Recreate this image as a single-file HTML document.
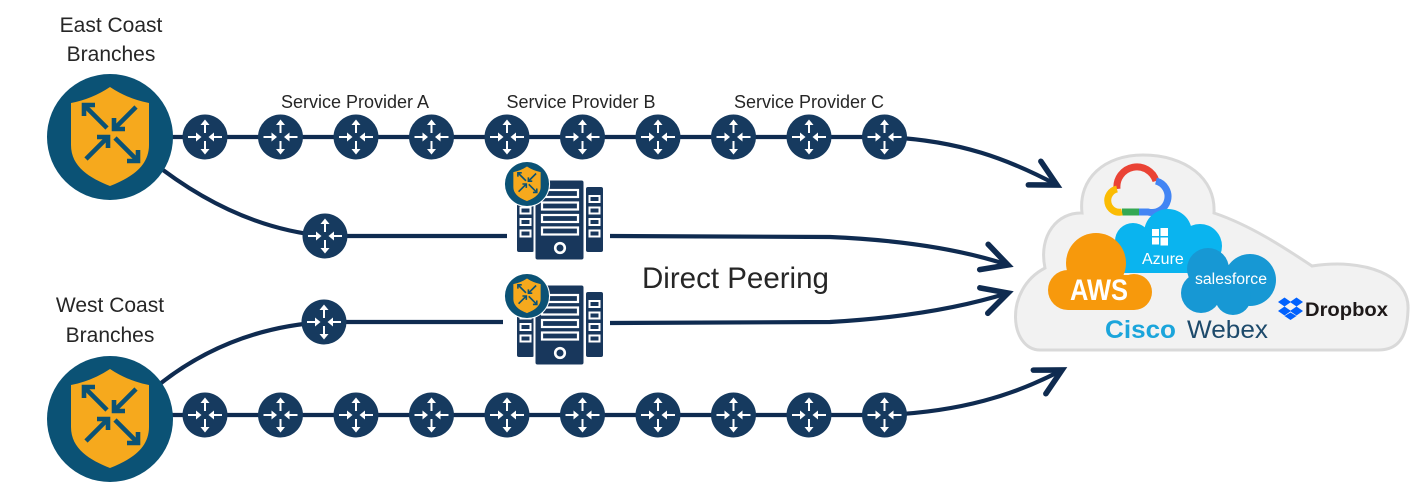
<!DOCTYPE html>
<html>
<head>
<meta charset="utf-8">
<style>
  html, body { margin:0; padding:0; background:#ffffff; }
  body { width:1410px; height:485px; overflow:hidden; }
  svg { display:block; }
  .lbl { font-family:"Liberation Sans", sans-serif; fill:#262626; }
</style>
</head>
<body>
<svg width="1410" height="485" viewBox="0 0 1410 485" xmlns="http://www.w3.org/2000/svg">
  <defs>
    <marker id="ah" markerUnits="userSpaceOnUse" markerWidth="40" markerHeight="40" refX="0" refY="0" viewBox="-25 -15 30 30" orient="auto" overflow="visible">
      <path d="M -19,-10 L 0,0 L -19,10" fill="none" stroke="#0f2b50" stroke-width="4.2" stroke-linejoin="miter" stroke-linecap="round"/>
    </marker>
    <g id="router">
      <circle r="22.5" fill="#163a5f"/>
      <g stroke="#ffffff" stroke-width="2" fill="none">
        <line x1="0" y1="-4" x2="0" y2="-13"/>
        <line x1="0" y1="4" x2="0" y2="13"/>
        <line x1="-17" y1="0" x2="-8" y2="0"/>
        <line x1="17" y1="0" x2="8" y2="0"/>
      </g>
      <g fill="#ffffff">
        <polygon points="0,-17.5 -4.5,-12 4.5,-12"/>
        <polygon points="0,17.5 -4.5,12 4.5,12"/>
        <polygon points="-3.5,0 -9,-4.5 -9,4.5"/>
        <polygon points="3.5,0 9,-4.5 9,4.5"/>
      </g>
    </g>
    <g id="badge">
      <circle r="63" fill="#0b5275"/>
      <path d="M -39,-34 Q -18,-38 0,-50 Q 18,-38 39,-34 L 39,8 C 39,30 20,41 0,49 C -20,41 -39,30 -39,8 Z" fill="#f6a91d"/>
      <g stroke="#0b5275" stroke-width="4.6" fill="none" stroke-linecap="butt" stroke-linejoin="miter">
        <line x1="-3" y1="-9" x2="-24" y2="-30"/>
        <polyline points="-26,-21 -26,-32 -15,-32"/>
        <line x1="5" y1="1" x2="26" y2="22"/>
        <polyline points="28,13 28,24 17,24"/>
        <line x1="26" y1="-30" x2="6" y2="-10"/>
        <polyline points="4,-19 4,-8 15,-8"/>
        <line x1="-24" y1="22" x2="-4" y2="2"/>
        <polyline points="-2,11 -2,0 -13,0"/>
      </g>
    </g>
    <g id="server">
      <rect x="517" y="187" width="17" height="65" rx="2" fill="#18375c"/>
      <rect x="586" y="187" width="17" height="65" rx="2" fill="#18375c"/>
      <g fill="none" stroke="#ffffff" stroke-width="2">
        <rect x="520.5" y="196" width="10" height="6"/>
        <rect x="520.5" y="207.5" width="10" height="6"/>
        <rect x="520.5" y="219" width="10" height="6"/>
        <rect x="520.5" y="230.5" width="10" height="6"/>
        <rect x="589.5" y="196" width="10" height="6"/>
        <rect x="589.5" y="207.5" width="10" height="6"/>
        <rect x="589.5" y="219" width="10" height="6"/>
        <rect x="589.5" y="230.5" width="10" height="6"/>
      </g>
      <rect x="534.5" y="179.5" width="50" height="81" rx="3" fill="#18375c" stroke="#ffffff" stroke-width="2"/>
      <g fill="none" stroke="#ffffff" stroke-width="2.2">
        <rect x="542" y="190" width="36" height="7"/>
        <rect x="542" y="202.5" width="36" height="7"/>
        <rect x="542" y="215" width="36" height="7"/>
        <rect x="542" y="227.5" width="36" height="7"/>
        <circle cx="560" cy="248" r="4.8" stroke-width="2.6"/>
      </g>
    </g>
  </defs>

  <g fill="none" stroke="#0f2b50" stroke-width="4.2">
    <line x1="165" y1="137" x2="884" y2="137"/>
    <path d="M 884,137 C 960,140 1010,160 1057,185" marker-end="url(#ah)"/>
    <path d="M 150,160 Q 235,228 325,236 L 507,236"/>
    <path d="M 610,236 L 830,237 C 900,240 960,249 1008,265" marker-end="url(#ah)"/>
    <path d="M 150,392 Q 225,328 325,322 L 503,322"/>
    <path d="M 610,323 L 830,322 C 900,318 960,308 1008,293" marker-end="url(#ah)"/>
    <line x1="165" y1="415" x2="884" y2="415"/>
    <path d="M 884,415 C 960,412 1015,395 1062,370" marker-end="url(#ah)"/>
  </g>

  <use href="#router" x="205" y="137"/>
  <use href="#router" x="280.5" y="137"/>
  <use href="#router" x="356" y="137"/>
  <use href="#router" x="431.5" y="137"/>
  <use href="#router" x="507" y="137"/>
  <use href="#router" x="582.5" y="137"/>
  <use href="#router" x="658" y="137"/>
  <use href="#router" x="733.5" y="137"/>
  <use href="#router" x="809" y="137"/>
  <use href="#router" x="884.5" y="137"/>

  <use href="#router" x="205" y="415"/>
  <use href="#router" x="280.5" y="415"/>
  <use href="#router" x="356" y="415"/>
  <use href="#router" x="431.5" y="415"/>
  <use href="#router" x="507" y="415"/>
  <use href="#router" x="582.5" y="415"/>
  <use href="#router" x="658" y="415"/>
  <use href="#router" x="733.5" y="415"/>
  <use href="#router" x="809" y="415"/>
  <use href="#router" x="884.5" y="415"/>

  <use href="#router" x="325" y="236"/>
  <use href="#router" x="324" y="322"/>

  <use href="#badge" transform="translate(110,137)"/>
  <use href="#badge" transform="translate(110,419)"/>

  <use href="#server"/>
  <use href="#server" transform="translate(0,105)"/>
  <g transform="translate(527,184) scale(0.35)">
    <circle r="66" fill="#ffffff"/>
    <use href="#badge"/>
  </g>
  <g transform="translate(527,296) scale(0.35)">
    <circle r="66" fill="#ffffff"/>
    <use href="#badge"/>
  </g>

  <text class="lbl" x="111" y="32" font-size="21" text-anchor="middle">East Coast</text>
  <text class="lbl" x="111" y="61" font-size="21" text-anchor="middle">Branches</text>
  <text class="lbl" x="110" y="312" font-size="21" text-anchor="middle">West Coast</text>
  <text class="lbl" x="110" y="342" font-size="21" text-anchor="middle">Branches</text>

  <text class="lbl" x="355" y="108" font-size="18" text-anchor="middle">Service Provider A</text>
  <text class="lbl" x="581" y="108" font-size="18" text-anchor="middle">Service Provider B</text>
  <text class="lbl" x="809" y="108" font-size="18" text-anchor="middle">Service Provider C</text>

  <text class="lbl" x="642" y="288" font-size="29.5">Direct Peering</text>

  <path d="M 1040,350 C 1010,350 1003,290 1045,268 C 1038,235 1058,212 1082,213 C 1078,178 1105,155 1143,155 C 1185,155 1216,178 1214,213 C 1250,225 1285,248 1312,266 C 1365,258 1410,275 1408,310 C 1407,338 1398,350 1378,350 Z"
        fill="#f2f2f2" stroke="#d9d9d9" stroke-width="3"/>

  <g fill="none" stroke-width="7" stroke-linecap="butt">
    <path d="M 1117,189 A 20,20 0 0 1 1156,181" stroke="#ea4335"/>
    <path d="M 1156,181 A 16,16 0 0 1 1148,212 L 1139,212" stroke="#4285f4"/>
    <path d="M 1139,212 L 1122,212" stroke="#34a853"/>
    <path d="M 1122,212 A 11.5,11.5 0 0 1 1117,189" stroke="#fbbc04"/>
  </g>

  <g fill="#0ab4ef">
    <circle cx="1168" cy="233" r="24"/>
    <circle cx="1133" cy="241" r="18"/>
    <circle cx="1200" cy="246" r="22"/>
    <circle cx="1119" cy="258" r="15"/>
    <rect x="1115" y="240" width="102" height="33" rx="10"/>
  </g>
  <g fill="#ffffff">
    <rect x="1152" y="229" width="7" height="7"/>
    <rect x="1160.5" y="228" width="7.5" height="8"/>
    <rect x="1152" y="237.5" width="7" height="7"/>
    <rect x="1160.5" y="237.5" width="7.5" height="8"/>
  </g>
  <text x="1142" y="264" font-family="Liberation Sans, sans-serif" font-size="16" fill="#ffffff">Azure</text>

  <g fill="#f7990c">
    <circle cx="1096" cy="263" r="30"/>
    <circle cx="1068" cy="290" r="20"/>
    <circle cx="1134" cy="292" r="18"/>
    <rect x="1068" y="275" width="66" height="35"/>
  </g>
  <text x="1070" y="300" font-family="Liberation Sans, sans-serif" font-weight="bold" font-size="30" fill="#ffffff" textLength="58" lengthAdjust="spacingAndGlyphs">AWS</text>

  <g fill="#1798d4">
    <circle cx="1208" cy="269" r="21"/>
    <circle cx="1250" cy="280" r="26"/>
    <circle cx="1201" cy="293" r="20"/>
    <circle cx="1233" cy="297" r="18"/>
    <rect x="1200" y="265" width="50" height="35"/>
  </g>
  <text x="1195" y="284" font-family="Liberation Sans, sans-serif" font-size="15.5" fill="#ffffff" textLength="72" lengthAdjust="spacingAndGlyphs">salesforce</text>

  <g fill="#0061fe">
    <polygon points="1278,302 1284.5,297.5 1291,302 1284.5,306.5"/>
    <polygon points="1290,302 1296.5,297.5 1303,302 1296.5,306.5"/>
    <polygon points="1278,311 1284.5,306.5 1291,311 1284.5,315.5"/>
    <polygon points="1290,311 1296.5,306.5 1303,311 1296.5,315.5"/>
    <polygon points="1284.5,316 1290.5,312.5 1296.5,316 1290.5,320"/>
  </g>
  <text x="1305" y="316" font-family="Liberation Sans, sans-serif" font-weight="bold" font-size="19.5" fill="#1e1919" textLength="83" lengthAdjust="spacingAndGlyphs">Dropbox</text>

  <text x="1105" y="338" font-family="Liberation Sans, sans-serif" font-weight="bold" font-size="25" fill="#1ba5db" textLength="71" lengthAdjust="spacingAndGlyphs">Cisco</text>
  <text x="1187" y="338" font-family="Liberation Sans, sans-serif" font-size="25" fill="#1d4a6b" textLength="81" lengthAdjust="spacingAndGlyphs">Webex</text>
</svg>
</body>
</html>
